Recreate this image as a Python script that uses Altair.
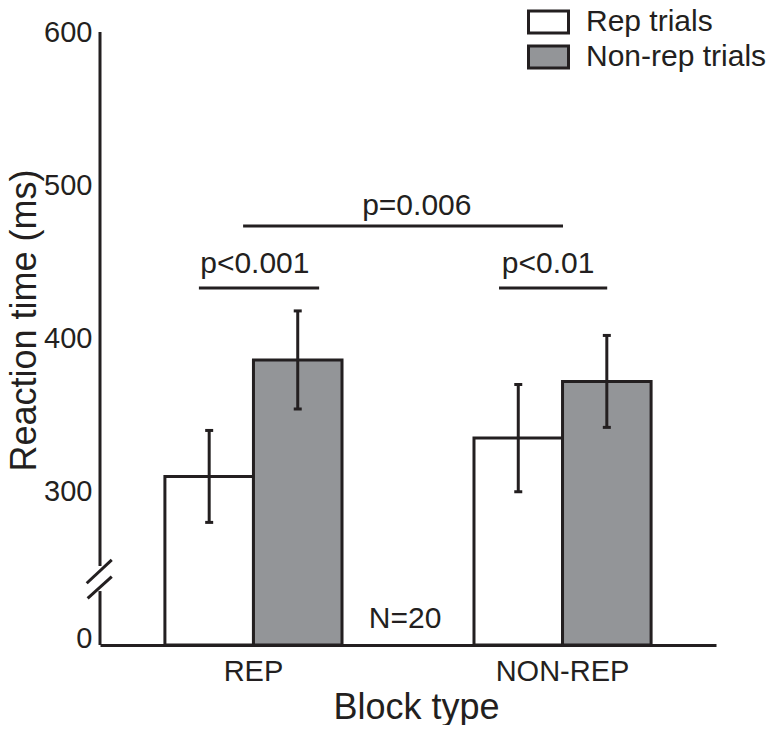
import altair as alt
import pandas as pd

INK = "#231f20"
GRAY = "#939598"
FONT = "Liberation Sans"

# ---- data ----
blocks = ["REP", "NON-REP"]
series = ["Rep trials", "Non-rep trials"]
rep_means = [310, 335]
nonrep_means = [386, 372]
rep_err = [30, 35]
nonrep_err = [32, 30]

# broken axis: the bottom of the scale (200) is labelled "0"
y_min, y_max = 200, 600
y_ticks = [200, 300, 400, 500, 600]

# x positions in block units (0 = REP, 1 = NON-REP)
x_dom = [-0.495, 1.498]
sig_labels = ["p<0.001", "p=0.006", "p<0.01"]
sig_x1 = [-0.175, -0.032, 0.796]
sig_x2 = [0.214, 1.003, 1.146]
sig_line_y = [433, 473.4, 433]
sig_text_x = [0.006, 0.53, 0.955]
sig_text_y = [442.7, 480.6, 442.7]
n_label = ["N=20"]
n_x = [0.492]
n_y = [211]

axis_seg_y1 = [600, 235.2]
axis_seg_y2 = [251.5, 200]
slash_x1 = [-0.538, -0.535]
slash_x2 = [-0.457, -0.457]
slash_y1 = [240.3, 230.5]
slash_y2 = [255.5, 244.6]

# ---- tables ----
bars_df = pd.DataFrame({
    "block": blocks * 2,
    "series": [series[0]] * 2 + [series[1]] * 2,
    "mean": rep_means + nonrep_means,
    "err": rep_err + nonrep_err,
})
bars_df["base"] = y_min

lines_df = pd.DataFrame({
    "x": sig_x1 + [x_dom[0]] * 2 + slash_x1,
    "x2": sig_x2 + [x_dom[0]] * 2 + slash_x2,
    "y": sig_line_y + axis_seg_y1 + slash_y1,
    "y2": sig_line_y + axis_seg_y2 + slash_y2,
})
text_df = pd.DataFrame({
    "x": sig_text_x + n_x,
    "y": sig_text_y + n_y,
    "label": sig_labels + n_label,
})

y_scale = alt.Scale(domain=[y_min, y_max], zero=False, nice=False)
y_axis = alt.Axis(
    values=y_ticks,
    labelExpr="datum.value == 200 ? '0' : datum.label",
    labelOffset={"condition": {"test": "datum.value == 200", "value": -7}, "value": 0},
    domain=False, ticks=False, grid=False,
    labelFontSize=29, labelColor=INK, labelPadding=8, labelFont=FONT,
    titleFontSize=36, titleColor=INK, titleFontWeight="normal", titleFont=FONT,
    titleAngle=270, titleBaseline="alphabetic", titleX=-65, titleY=288,
)
Y_TITLE = "Reaction time (ms)"

def yenc(field):
    return alt.Y(field, scale=y_scale, axis=y_axis, title=Y_TITLE)

x_band = alt.X(
    "block:N", sort=blocks,
    scale=alt.Scale(paddingInner=0.427, paddingOuter=0.21),
    axis=alt.Axis(
        title="Block type", labelAngle=0, ticks=False, grid=False,
        domainColor=INK, domainWidth=3,
        labelFontSize=29, labelColor=INK, labelPadding=12, labelFont=FONT,
        titleFontSize=36, titleColor=INK, titleFontWeight="normal", titleFont=FONT,
        titleBaseline="alphabetic", titleX=316, titleY=73,
    ),
)
x_off = alt.XOffset("series:N", sort=series, scale=alt.Scale(paddingInner=0, paddingOuter=0))

base = alt.Chart(bars_df).encode(x=x_band, xOffset=x_off)

bars = base.mark_bar(stroke=INK, strokeWidth=3).encode(
    y=yenc("mean:Q"),
    y2="base:Q",
    fill=alt.Fill(
        "series:N", sort=series,
        scale=alt.Scale(domain=series, range=["#ffffff", GRAY]),
        legend=alt.Legend(
            title=None, orient="none", legendX=433.5, legendY=-25,
            symbolType="M-2,-1.1L2,-1.1L2,1.1L-2,1.1Z", symbolSize=400,
            symbolStrokeWidth=3, symbolStrokeColor=INK, symbolOpacity=1,
            labelFontSize=30, labelColor=INK, labelFont=FONT, labelOffset=22.5,
            labelLimit=400, rowPadding=1, padding=0,
        ),
    ),
)

err = base.transform_calculate(
    lo="datum.mean - datum.err", hi="datum.mean + datum.err"
).mark_rule(color=INK, strokeWidth=3).encode(y=yenc("lo:Q"), y2="hi:Q")

caps = base.transform_calculate(
    lo="datum.mean - datum.err", hi="datum.mean + datum.err"
).transform_fold(["lo", "hi"]).mark_tick(color=INK, size=8, thickness=3, opacity=1).encode(
    y=yenc("value:Q")
)

xq = alt.Scale(domain=x_dom, nice=False, zero=False)

lines = alt.Chart(lines_df).mark_rule(color=INK, strokeWidth=3).encode(
    x=alt.X("x:Q", scale=xq, axis=None),
    x2="x2:Q",
    y=yenc("y:Q"),
    y2="y2:Q",
)

texts = alt.Chart(text_df).mark_text(
    fontSize=30, color=INK, font=FONT, align="center", baseline="alphabetic"
).encode(
    x=alt.X("x:Q", scale=xq, axis=None),
    y=yenc("y:Q"),
    text="label:N",
)

chart = alt.layer(
    alt.layer(bars, err, caps), lines, texts
).resolve_scale(x="independent").properties(
    width=616, height=613,
    padding={"left": 92, "top": 24, "right": 52, "bottom": 80},
    autosize=alt.AutoSizeParams(type="none"),
).configure(font=FONT).configure_view(stroke="transparent")

chart.save("out.html", embed_options={"renderer": "svg", "actions": False})
